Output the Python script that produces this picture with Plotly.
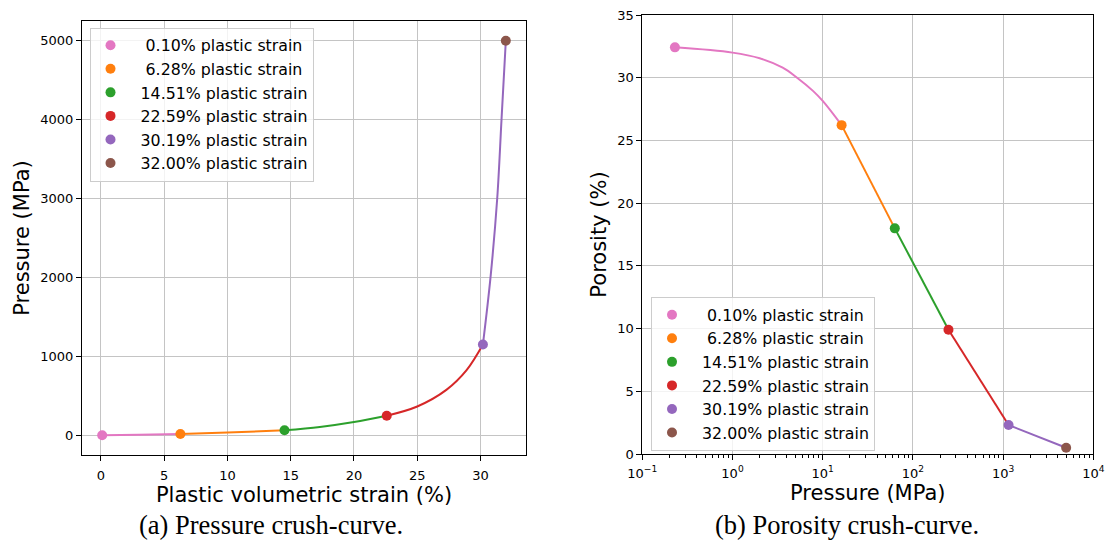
import plotly.graph_objects as go

# ---- data ----
labels = ["\u00a0\u00a0\u00a00.10% plastic strain", "\u00a0\u00a0\u00a06.28% plastic strain",
          "\u00a0\u00a014.51% plastic strain", "\u00a0\u00a022.59% plastic strain",
          "\u00a0\u00a030.19% plastic strain", "\u00a0\u00a032.00% plastic strain"]
strain = [0.10, 6.28, 14.51, 22.59, 30.19, 32.00]          # %
pressure = [0.23, 16.2, 63.0, 248.0, 1150.0, 5000.0]        # MPa
porosity = [32.42, 26.22, 17.99, 9.91, 2.31, 0.50]          # %

# curve samples: strain vs pressure, one list per segment
seg_strain_a = [[0.10, 3.0, 6.28],
                [6.28, 10.0, 14.51],
                [14.51, 17.3, 20.0, 22.59],
                [22.59, 25.0, 27.3, 28.9, 30.19],
                [30.19, 30.79, 31.32, 31.66, 32.00]]
seg_pressure_a = [[0.0, 7.0, 16.2],
                  [16.2, 34.0, 63.0],
                  [63.0, 106.0, 169.0, 248.0],
                  [248.0, 365.0, 575.0, 825.0, 1150.0],
                  [1150.0, 2000.0, 3000.0, 4000.0, 5000.0]]

# curve samples: pressure vs porosity
seg_pressure_b = [[0.23, 1.0, 2.0, 3.6, 5.2, 7.8, 10.0, 16.2],
                  [16.2, 63.0],
                  [63.0, 248.0],
                  [248.0, 1150.0],
                  [1150.0, 5000.0]]
seg_porosity_b = [[32.42, 32.0, 31.55, 30.8, 30.0, 28.95, 28.15, 26.22],
                  [26.22, 17.99],
                  [17.99, 9.91],
                  [9.91, 2.31],
                  [2.31, 0.50]]

colors = ["#e377c2", "#ff7f0e", "#2ca02c", "#d62728", "#9467bd", "#8c564b"]

FONT = "DejaVu Sans"
fig = go.Figure()

# segments
for i in range(5):
    fig.add_trace(go.Scatter(x=seg_strain_a[i], y=seg_pressure_a[i], mode="lines",
                             line=dict(color=colors[i], width=2, shape="spline", smoothing=1),
                             showlegend=False, hoverinfo="skip", xaxis="x", yaxis="y"))
    fig.add_trace(go.Scatter(x=seg_pressure_b[i], y=seg_porosity_b[i], mode="lines",
                             line=dict(color=colors[i], width=2, shape="spline", smoothing=1),
                             showlegend=False, hoverinfo="skip", xaxis="x2", yaxis="y2"))

# markers + legends
for i in range(6):
    fig.add_trace(go.Scatter(x=[strain[i]], y=[pressure[i]], mode="markers", name=labels[i],
                             marker=dict(color=colors[i], size=10), xaxis="x", yaxis="y",
                             legend="legend", legendgroup="a%d" % i))
    fig.add_trace(go.Scatter(x=[pressure[i]], y=[porosity[i]], mode="markers", name=labels[i],
                             marker=dict(color=colors[i], size=10), xaxis="x2", yaxis="y2",
                             legend="legend2", legendgroup="b%d" % i))

grid = "#c4c4c4"
common = dict(showline=True, linecolor="black", linewidth=1, mirror=True, ticks="outside",
              ticklen=5, tickcolor="black", tickwidth=1, showgrid=True, gridcolor=grid,
              gridwidth=1, zeroline=False, automargin=False,
              tickfont=dict(family=FONT, size=13, color="black"))
title_font = dict(family=FONT, size=21, color="black")

minor_vals = [m * 10 ** e for e in range(-1, 4) for m in range(2, 10)]

legend_common = dict(bgcolor="rgba(255,255,255,0.8)", bordercolor="#cccccc", borderwidth=1,
                     font=dict(family=FONT, size=15.8, color="black"), traceorder="grouped",
                     tracegroupgap=0, xanchor="left", yanchor="top")

fig.update_layout(
    width=1105, height=548, margin=dict(l=0, r=0, t=0, b=0, autoexpand=False),
    paper_bgcolor="white", plot_bgcolor="white",
    font=dict(family=FONT, color="black"),
    xaxis=dict(domain=[82 / 1105, 526 / 1105], range=[-1.495, 33.595],
               tickvals=[0, 5, 10, 15, 20, 25, 30], ticklabelstandoff=3,
               title=dict(text="Plastic volumetric strain (%)", font=title_font, standoff=0),
               anchor="y", **common),
    yaxis=dict(domain=[1 - 455 / 548, 1 - 21 / 548], range=[-250, 5250],
               tickvals=[0, 1000, 2000, 3000, 4000, 5000],
               title=dict(text="Pressure (MPa)", font=title_font, standoff=4),
               anchor="x", **common),
    xaxis2=dict(domain=[642.3 / 1105, 1093.3 / 1105], type="log", range=[-1, 4],
                tickvals=[0.1, 1, 10, 100, 1000, 10000], ticklabelstandoff=2,
                ticktext=["10<sup>\u22121</sup>", "10<sup>0</sup>", "10<sup>1</sup>", "10<sup>2</sup>",
                          "10<sup>3</sup>", "10<sup>4</sup>"],
                minor=dict(tickvals=minor_vals, ticks="outside", ticklen=3, tickcolor="black",
                           showgrid=False),
                title=dict(text="Pressure (MPa)", font=title_font, standoff=0),
                anchor="y2", **common),
    yaxis2=dict(domain=[1 - 454 / 548, 1 - 15 / 548], range=[0, 35],
                tickvals=[0, 5, 10, 15, 20, 25, 30, 35],
                title=dict(text="Porosity (%)", font=title_font, standoff=4),
                anchor="x2", **common),
    legend=dict(x=89.5 / 1105, y=1 - 27.5 / 548, **legend_common),
    legend2=dict(x=651 / 1105, y=1 - 297 / 548, **legend_common),
    annotations=[
        dict(text="(a) Pressure crush-curve.", x=270.7 / 1105, y=1 - 525 / 548, xref="paper",
             yref="paper", xanchor="center", yanchor="middle", showarrow=False,
             font=dict(family="Liberation Serif", size=26.5, color="black")),
        dict(text="(b) Porosity crush-curve.", x=846.9 / 1105, y=1 - 525 / 548, xref="paper",
             yref="paper", xanchor="center", yanchor="middle", showarrow=False,
             font=dict(family="Liberation Serif", size=26.5, color="black")),
    ],
)

fig.write_html("out.html")
